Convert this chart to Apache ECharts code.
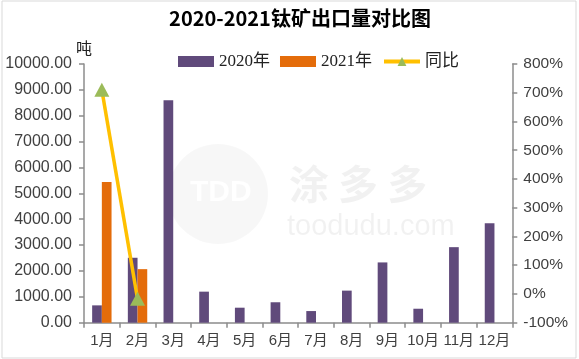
<!DOCTYPE html>
<html>
<head>
<meta charset="utf-8">
<script src="https://cdn.jsdelivr.net/npm/echarts@6/dist/echarts.min.js"></script>
<style>
html,body{margin:0;padding:0;background:#fff;}
#chart{width:579px;height:359px;}
</style>
</head>
<body>
<div id="chart"></div>
<script>
const categories = ['1月','2月','3月','4月','5月','6月','7月','8月','9月','10月','11月','12月'];
const exports2020 = [670, 2510, 8600, 1200, 580, 790, 450, 1240, 2330, 540, 2920, 3840];
const exports2021 = [5440, 2070, null, null, null, null, null, null, null, null, null, null];
const yoyPercent = [710, -17, null, null, null, null, null, null, null, null, null, null];
const leftTicks = {min: 0, max: 10000, interval: 1000};
const rightTicks = {min: -100, max: 800, interval: 100};

const chart = echarts.init(document.getElementById('chart'), null, {renderer: 'canvas'});
const axisColor = '#8c8c8c';
const labelColor = '#404040';
const sansFont = 'Liberation Sans, Arial, "Noto Sans CJK SC", sans-serif';
const serifFont = 'Liberation Serif, "DejaVu Serif", "Noto Sans CJK SC", serif';

chart.setOption({
  backgroundColor: '#ffffff',
  animation: false,
  title: {
    text: '2020-2021钛矿出口量对比图',
    left: 295, textAlign: 'center', top: 3,
    textStyle: {fontSize: 20, fontWeight: 'bold', color: '#000', fontFamily: '"Noto Sans CJK SC", sans-serif'}
  },
  graphic: [
    {type: 'rect', shape: {x: 2, y: 1, width: 574, height: 357}, style: {fill: 'none', stroke: '#d9d9d9', lineWidth: 1}, z: -10, silent: true},
    {type: 'circle', shape: {cx: 218, cy: 194, r: 50}, style: {fill: 'rgba(0,0,0,0.03)'}, z: -5, silent: true},
    {type: 'text', left: 190, top: 178, style: {text: 'TDD', fontSize: 30, fontWeight: 'bold', fill: 'rgba(255,255,255,0.9)', fontFamily: sansFont}, z: -4, silent: true},
    {type: 'text', left: 289, top: 164, style: {text: '涂 多 多', fontSize: 40, fontWeight: 'bold', fill: 'rgba(0,0,0,0.055)', fontFamily: '"Noto Sans CJK SC", sans-serif'}, z: -4, silent: true},
    {type: 'text', left: 287, top: 212, style: {text: 'toodudu.com', fontSize: 29, fill: 'rgba(0,0,0,0.055)', fontFamily: sansFont}, z: -4, silent: true}
  ],
  legend: {
    left: 173, top: 48,
    itemWidth: 36, itemHeight: 11, itemGap: 10,
    lineStyle: {width: 4},
    textStyle: {fontSize: 17, color: '#222', fontFamily: serifFont},
    data: [
      {name: '2020年', icon: 'rect'},
      {name: '2021年', icon: 'rect'},
      {name: '同比'}
    ]
  },
  grid: {left: 84, right: 66.7, top: 64, bottom: 36.3, containLabel: false},
  xAxis: {
    type: 'category',
    data: categories,
    axisLine: {lineStyle: {color: axisColor, width: 1.5}},
    axisTick: {show: true, length: 5, alignWithLabel: false, lineStyle: {color: axisColor, width: 1.5}},
    axisLabel: {fontSize: 15, color: labelColor, margin: 11, interval: 0, fontFamily: sansFont},
    splitLine: {show: false}
  },
  yAxis: [
    {
      type: 'value', min: leftTicks.min, max: leftTicks.max, interval: leftTicks.interval,
      name: '吨', nameLocation: 'end', nameGap: 7,
      nameTextStyle: {fontSize: 16, color: '#222', fontFamily: '"Noto Sans CJK SC", sans-serif', align: 'center'},
      axisLine: {show: true, lineStyle: {color: axisColor, width: 1.5}},
      axisTick: {show: true, length: 5, lineStyle: {color: axisColor, width: 1.5}},
      axisLabel: {fontSize: 16, color: labelColor, margin: 12, fontFamily: sansFont, formatter: v => v.toFixed(2)},
      splitLine: {show: false}
    },
    {
      type: 'value', min: rightTicks.min, max: rightTicks.max, interval: rightTicks.interval,
      position: 'right',
      axisLine: {show: true, lineStyle: {color: axisColor, width: 1.5}},
      axisTick: {show: true, length: 5, lineStyle: {color: axisColor, width: 1.5}},
      axisLabel: {fontSize: 15.5, color: labelColor, margin: 11, fontFamily: sansFont, formatter: '{value}%'},
      splitLine: {show: false}
    }
  ],
  series: [
    {
      name: '2020年', type: 'bar', data: exports2020, barWidth: 9.7, barGap: '0%',
      itemStyle: {color: '#604A7B'}
    },
    {
      name: '2021年', type: 'bar', data: exports2021, barWidth: 9.7, barGap: '0%',
      itemStyle: {color: '#E46C0A'}
    },
    {
      name: '同比', type: 'line', yAxisIndex: 1, data: yoyPercent,
      lineStyle: {color: '#FFC000', width: 3.5},
      itemStyle: {color: '#9BBB59'},
      symbol: 'triangle', symbolSize: [15, 14], showAllSymbol: true,
      z: 5
    }
  ]
});
</script>
</body>
</html>
